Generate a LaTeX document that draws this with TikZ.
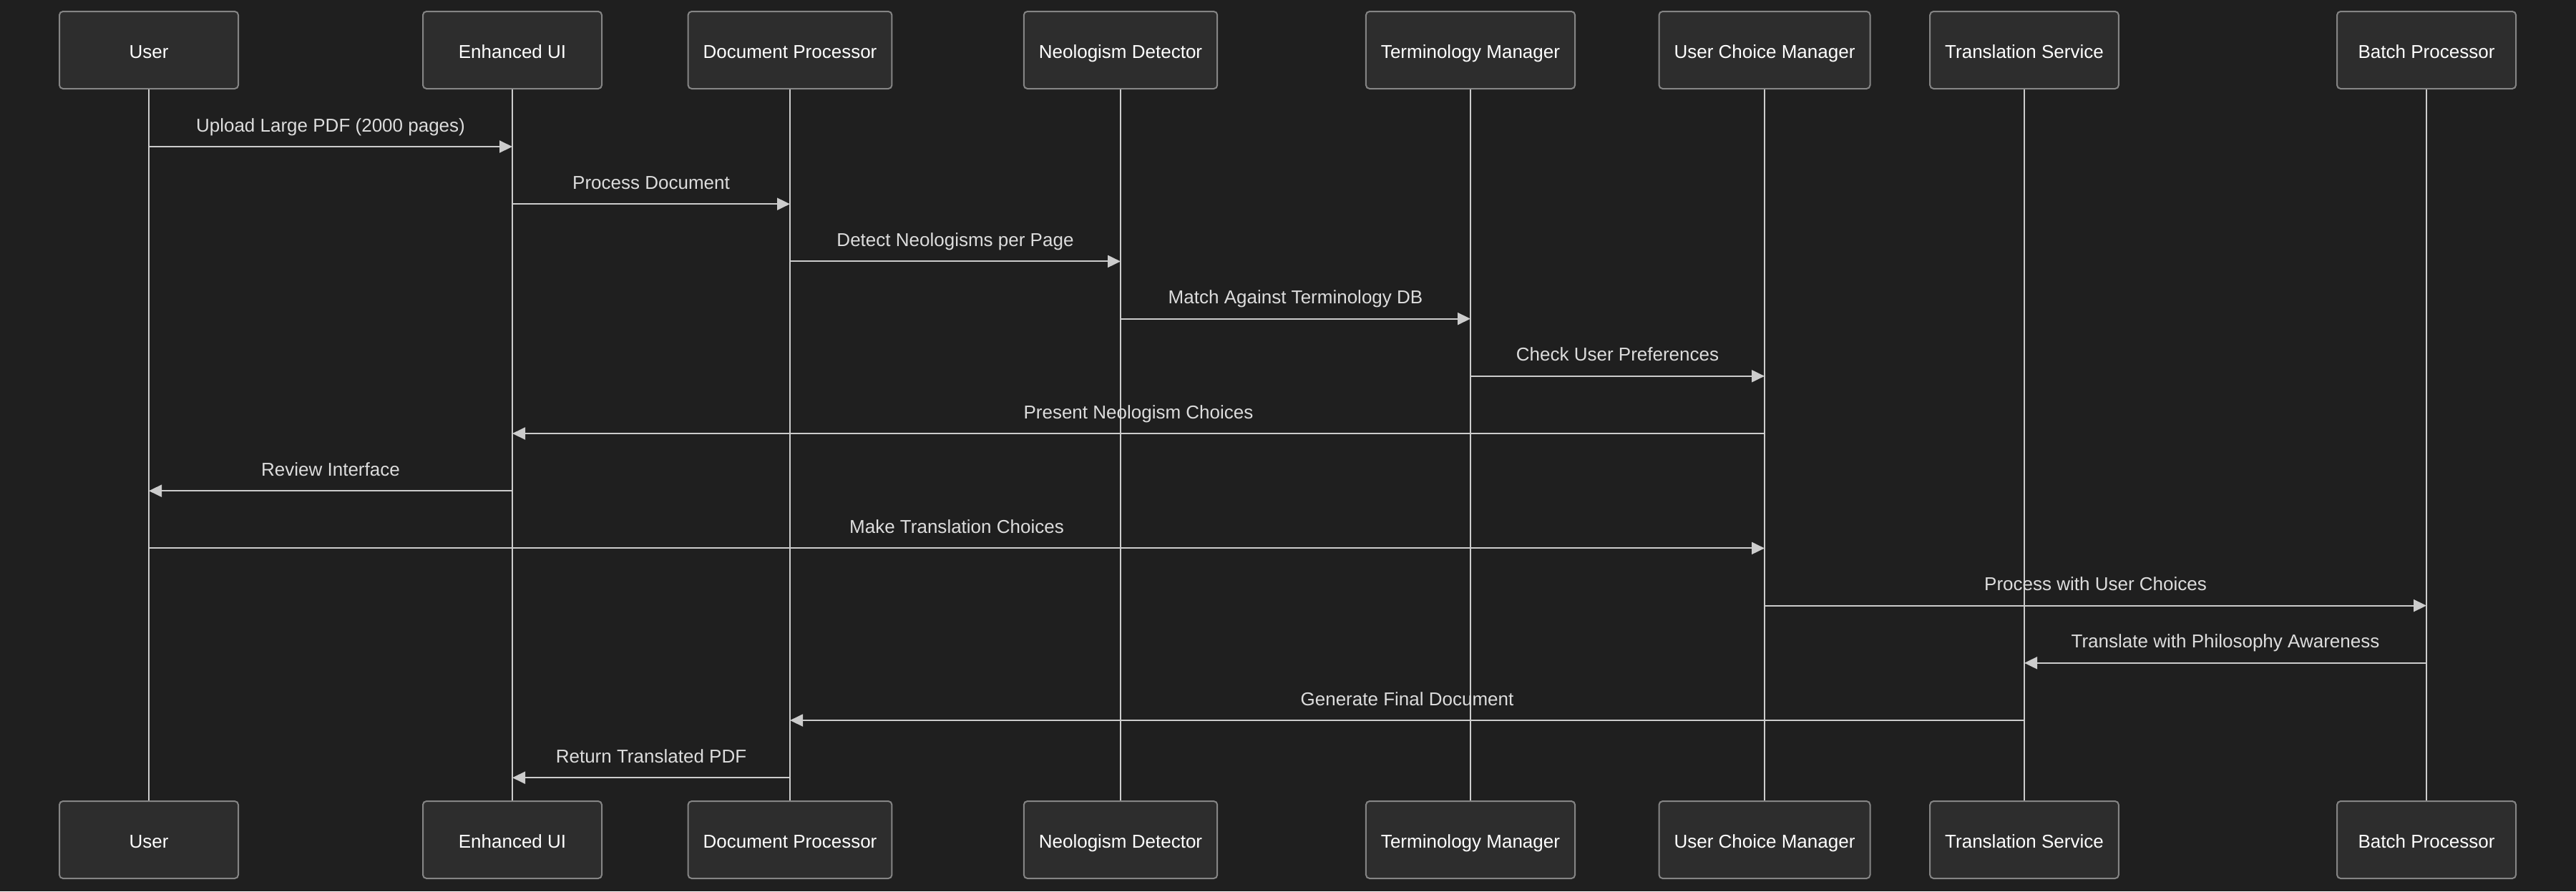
\documentclass[tikz,border=0pt]{standalone}
\usepackage{fontspec}
\setmainfont{Liberation Sans}
\usetikzlibrary{arrows.meta}
\definecolor{bg}{HTML}{1F1F1F}
\definecolor{boxfill}{HTML}{2D2D2D}
\definecolor{boxline}{HTML}{858585}
\definecolor{wire}{HTML}{CCCCCC}
\definecolor{msgtext}{HTML}{DDDDDD}
\tikzset{
actor/.style={draw=boxline, fill=boxfill, line width=0.02cm, rounded corners=0.05cm, minimum width=2.5cm, minimum height=1.08cm, inner xsep=0.21cm, text height=7pt, text depth=0.2pt, text=white, font=\fontsize{7.4pt}{9pt}\selectfont},
life/.style={draw=wire, line width=0.02cm},
msg/.style={draw=wire, line width=0.02cm, -{Triangle[length=0.18cm,width=0.17cm]}},
lbl/.style={anchor=base, yshift=0.21cm, inner sep=0, text=msgtext, font=\fontsize{7.4pt}{9pt}\selectfont}
}
\begin{document}
\begin{tikzpicture}
\fill[bg] (0,0) rectangle (36,-12.46);
\node [actor] (user) at (2.08, -0.70) {User};
\node [actor] (ui) at (7.16, -0.70) {Enhanced UI};
\node [actor] (doc) at (11.04, -0.70) {Document Processor};
\node [actor] (neo) at (15.66, -0.70) {Neologism Detector};
\node [actor] (term) at (20.55, -0.70) {Terminology Manager};
\node [actor] (choice) at (24.66, -0.70) {User Choice Manager};
\node [actor] (trans) at (28.29, -0.70) {Translation Service};
\node [actor] (batch) at (33.91, -0.70) {Batch Processor};
\node [actor] (userb) at (2.08, -11.74) {User};
\node [actor] (uib) at (7.16, -11.74) {Enhanced UI};
\node [actor] (docb) at (11.04, -11.74) {Document Processor};
\node [actor] (neob) at (15.66, -11.74) {Neologism Detector};
\node [actor] (termb) at (20.55, -11.74) {Terminology Manager};
\node [actor] (choiceb) at (24.66, -11.74) {User Choice Manager};
\node [actor] (transb) at (28.29, -11.74) {Translation Service};
\node [actor] (batchb) at (33.91, -11.74) {Batch Processor};
\draw [life] (user.south) -- (userb.north);
\draw [life] (ui.south) -- (uib.north);
\draw [life] (doc.south) -- (docb.north);
\draw [life] (neo.south) -- (neob.north);
\draw [life] (term.south) -- (termb.north);
\draw [life] (choice.south) -- (choiceb.north);
\draw [life] (trans.south) -- (transb.north);
\draw [life] (batch.south) -- (batchb.north);
\coordinate (r1) at (0, -2.05);
\coordinate (r2) at (0, -2.852);
\coordinate (r3) at (0, -3.654);
\coordinate (r4) at (0, -4.456);
\coordinate (r5) at (0, -5.258);
\coordinate (r6) at (0, -6.06);
\coordinate (r7) at (0, -6.862);
\coordinate (r8) at (0, -7.664);
\coordinate (r9) at (0, -8.466);
\coordinate (r10) at (0, -9.268);
\coordinate (r11) at (0, -10.07);
\coordinate (r12) at (0, -10.872);
\draw [msg] (user |- r1) -- node[lbl] {Upload Large PDF (2000 pages)} (ui |- r1);
\draw [msg] (ui |- r2) -- node[lbl] {Process Document} (doc |- r2);
\draw [msg] (doc |- r3) -- node[lbl] {Detect Neologisms per Page} (neo |- r3);
\draw [msg] (neo |- r4) -- node[lbl] {Match Against Terminology DB} (term |- r4);
\draw [msg] (term |- r5) -- node[lbl] {Check User Preferences} (choice |- r5);
\draw [msg] (choice |- r6) -- node[lbl] {Present Neologism Choices} (ui |- r6);
\draw [msg] (ui |- r7) -- node[lbl] {Review Interface} (user |- r7);
\draw [msg] (user |- r8) -- node[lbl] {Make Translation Choices} (choice |- r8);
\draw [msg] (choice |- r9) -- node[lbl] {Process with User Choices} (batch |- r9);
\draw [msg] (batch |- r10) -- node[lbl] {Translate with Philosophy Awareness} (trans |- r10);
\draw [msg] (trans |- r11) -- node[lbl] {Generate Final Document} (doc |- r11);
\draw [msg] (doc |- r12) -- node[lbl] {Return Translated PDF} (ui |- r12);
\end{tikzpicture}
\end{document}
